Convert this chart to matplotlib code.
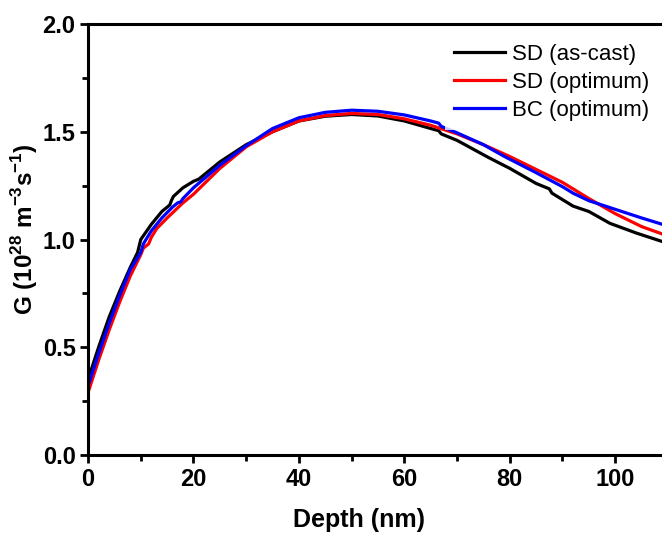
import numpy as np
import matplotlib
matplotlib.use('Agg')
import matplotlib.pyplot as plt
from matplotlib.ticker import MultipleLocator

plt.rcParams['font.family'] = ['Liberation Sans', 'DejaVu Sans']
plt.rcParams['mathtext.fontset'] = 'custom'
plt.rcParams['mathtext.rm'] = 'Liberation Sans:bold'
plt.rcParams['mathtext.bf'] = 'Liberation Sans:bold'

# SD (as-cast)
x_ascast = [0, 2, 4, 6, 8, 9, 9.4, 9.8, 10, 12, 14, 15.5, 15.8, 16.2, 18, 20, 21,
            25, 30, 35, 40, 45, 50, 55, 60, 65, 66.5, 67, 70, 76, 80, 85, 87.5,
            88, 92, 95, 99, 104, 109]
g_ascast = [0.35, 0.50, 0.64, 0.76, 0.87, 0.92, 0.94, 0.98, 1.00, 1.07, 1.13, 1.16,
            1.18, 1.20, 1.24, 1.27, 1.28, 1.36, 1.44, 1.50, 1.55, 1.572, 1.58, 1.573,
            1.55, 1.515, 1.505, 1.49, 1.46, 1.38, 1.33, 1.26, 1.235, 1.215, 1.155,
            1.13, 1.075, 1.03, 0.99]

# SD (optimum)
x_sdopt = [0, 2, 4, 6, 8, 10, 10.5, 11.5, 12, 13, 15, 18, 20, 25, 30, 35, 40, 45,
           50, 55, 60, 65, 70, 75, 80, 85, 90, 95, 100, 105, 109]
g_sdopt = [0.29, 0.44, 0.58, 0.71, 0.83, 0.93, 0.96, 0.98, 1.01, 1.05, 1.10, 1.17,
           1.21, 1.33, 1.43, 1.50, 1.55, 1.575, 1.585, 1.58, 1.56, 1.53, 1.49, 1.44,
           1.385, 1.325, 1.265, 1.19, 1.12, 1.06, 1.025]

# BC (optimum)
x_bcopt = [0, 2, 4, 6, 8, 9.5, 10, 10.5, 12, 14, 16, 17, 17.6, 18, 20, 25, 30, 35,
           40, 45, 50, 55, 60, 65, 66.5, 67, 70, 75, 79, 85, 90, 92, 95, 100, 105, 109]
g_bcopt = [0.32, 0.47, 0.61, 0.74, 0.86, 0.92, 0.94, 0.98, 1.04, 1.10, 1.15, 1.17,
           1.175, 1.19, 1.24, 1.345, 1.435, 1.515, 1.565, 1.59, 1.60, 1.595, 1.578,
           1.55, 1.54, 1.525, 1.495, 1.44, 1.385, 1.31, 1.245, 1.215, 1.18, 1.14,
           1.10, 1.07]

fig = plt.figure(figsize=(6.62, 5.33), dpi=100)
ax = fig.add_axes([0.133, 0.1463, 0.868, 0.8087])

lw = 2.3
ax.plot(x_ascast, g_ascast, color='black', linewidth=lw, label='SD (as-cast)')
ax.plot(x_sdopt, g_sdopt, color='#ff0000', linewidth=lw, label='SD (optimum)')
ax.plot(x_bcopt, g_bcopt, color='#0000ff', linewidth=lw, label='BC (optimum)')

ax.set_xlim(0, 109)
ax.set_ylim(0, 2.0)
ax.xaxis.set_major_locator(MultipleLocator(20))
ax.xaxis.set_minor_locator(MultipleLocator(10))
ax.yaxis.set_major_locator(MultipleLocator(0.5))
ax.yaxis.set_minor_locator(MultipleLocator(0.25))
ax.yaxis.set_major_formatter(matplotlib.ticker.FormatStrFormatter('%.1f'))

for loc, spine in ax.spines.items():
    spine.set_linewidth(2.2)
ax.spines['right'].set_visible(False)
ax.tick_params(which='major', direction='out', length=6, width=2,
               labelsize=17, pad=3)
ax.tick_params(which='minor', direction='out', length=4, width=2)
ax.tick_params(top=False, right=False)
for lab in ax.get_xticklabels() + ax.get_yticklabels():
    lab.set_fontweight('bold')

ax.set_xlabel('Depth (nm)', fontsize=18, fontweight='bold')
ax.set_ylabel(r'G (10$^{28}$ m$^{-3}$s$^{-1}$)', fontsize=17.5,
              fontweight='bold')
ax.xaxis.set_label_coords(0.472, -0.122)
ax.yaxis.set_label_coords(-0.084, 0.524)

leg = ax.legend(loc='upper right', bbox_to_anchor=(1.003, 0.99), fontsize=16,
                frameon=True, fancybox=False, handlelength=2.3,
                handletextpad=0.3, labelspacing=0.32, borderaxespad=0.3)
leg.get_frame().set_edgecolor('none')
leg.get_frame().set_facecolor('white')

fig.savefig('out.png', dpi=100)
